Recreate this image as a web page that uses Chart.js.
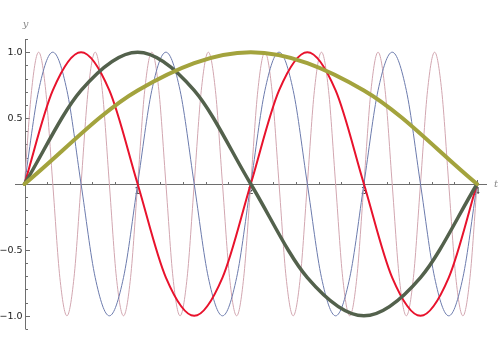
<!DOCTYPE html>
<html>
<head>
<meta charset="utf-8">
<script src="https://cdn.jsdelivr.net/npm/chart.js@4"></script>
<style>
html,body{margin:0;padding:0;background:#fff;}
#wrap{width:500px;height:350px;position:relative;}
</style>
</head>
<body>
<div id="wrap"><canvas id="c" width="500" height="350"></canvas></div>
<script>
// sin(4πt)
const pinkT = [0,0.0625,0.125,0.1875,0.25,0.3125,0.375,0.4375,0.5,0.5625,0.625,0.6875,0.75,0.8125,0.875,0.9375,1,1.0625,1.125,1.1875,1.25,1.3125,1.375,1.4375,1.5,1.5625,1.625,1.6875,1.75,1.8125,1.875,1.9375,2,2.0625,2.125,2.1875,2.25,2.3125,2.375,2.4375,2.5,2.5625,2.625,2.6875,2.75,2.8125,2.875,2.9375,3,3.0625,3.125,3.1875,3.25,3.3125,3.375,3.4375,3.5,3.5625,3.625,3.6875,3.75,3.8125,3.875,3.9375,4];
const pinkY = [0,0.71,1,0.71,0,-0.71,-1,-0.71,0,0.71,1,0.71,0,-0.71,-1,-0.71,0,0.71,1,0.71,0,-0.71,-1,-0.71,0,0.71,1,0.71,0,-0.71,-1,-0.71,0,0.71,1,0.71,0,-0.71,-1,-0.71,0,0.71,1,0.71,0,-0.71,-1,-0.71,0,0.71,1,0.71,0,-0.71,-1,-0.71,0,0.71,1,0.71,0,-0.71,-1,-0.71,0];
// sin(2πt)
const blueT = [0,0.125,0.25,0.375,0.5,0.625,0.75,0.875,1,1.125,1.25,1.375,1.5,1.625,1.75,1.875,2,2.125,2.25,2.375,2.5,2.625,2.75,2.875,3,3.125,3.25,3.375,3.5,3.625,3.75,3.875,4];
const blueY = [0,0.71,1,0.71,0,-0.71,-1,-0.71,0,0.71,1,0.71,0,-0.71,-1,-0.71,0,0.71,1,0.71,0,-0.71,-1,-0.71,0,0.71,1,0.71,0,-0.71,-1,-0.71,0];
// sin(πt)
const redT = [0,0.25,0.5,0.75,1,1.25,1.5,1.75,2,2.25,2.5,2.75,3,3.25,3.5,3.75,4];
const redY = [0,0.71,1,0.71,0,-0.71,-1,-0.71,0,0.71,1,0.71,0,-0.71,-1,-0.71,0];
// sin(πt/2)
const darkT = [0,0.5,1,1.5,2,2.5,3,3.5,4];
const darkY = [0,0.71,1,0.71,0,-0.71,-1,-0.71,0];
// sin(πt/4)
const oliveT = [0,1,2,3,4];
const oliveY = [0,0.71,1,0.71,0];

const xTicks = [1,2,3,4];
const xTickLabels = ["1","2","3","4"];
const xMinor = [0.2,0.4,0.6,0.8,1.2,1.4,1.6,1.8,2.2,2.4,2.6,2.8,3.2,3.4,3.6,3.8];
const yTicks = [1,0.5,-0.5,-1];
const yTickLabels = ["1.0","0.5","\u22120.5","\u22121.0"];
const yMinor = [1.1,0.9,0.8,0.7,0.6,0.4,0.3,0.2,0.1,-0.1,-0.2,-0.3,-0.4,-0.6,-0.7,-0.8,-0.9,-1.1];

function pts(ts, ys){ return ts.map((t,i)=>({x:t,y:ys[i]})); }

const axesPlugin = {
  id:'mmaAxes',
  beforeDatasetsDraw(chart){
    const ctx = chart.ctx, xs = chart.scales.x, ys = chart.scales.y, a = chart.chartArea;
    const y0 = Math.round(ys.getPixelForValue(0)) + 0.5;
    const x0 = Math.round(xs.getPixelForValue(0)) + 0.5;
    ctx.save();
    ctx.strokeStyle = '#6e6e6e';
    ctx.lineWidth = 1;
    ctx.beginPath();
    ctx.moveTo(a.left, y0); ctx.lineTo(a.right, y0);
    ctx.moveTo(x0, a.top); ctx.lineTo(x0, a.bottom);
    xTicks.forEach(v=>{ const p=Math.round(xs.getPixelForValue(v))+0.5; ctx.moveTo(p,y0); ctx.lineTo(p,y0-4.5); });
    xMinor.forEach(v=>{ const p=Math.round(xs.getPixelForValue(v))+0.5; ctx.moveTo(p,y0); ctx.lineTo(p,y0-2.5); });
    yTicks.forEach(v=>{ const p=Math.round(ys.getPixelForValue(v))+0.5; ctx.moveTo(x0,p); ctx.lineTo(x0+4.5,p); });
    yMinor.forEach(v=>{ const p=Math.round(ys.getPixelForValue(v))+0.5; ctx.moveTo(x0,p); ctx.lineTo(x0+2.5,p); });
    ctx.stroke();
    ctx.fillStyle = '#222';
    ctx.font = '9.5px "DejaVu Sans", sans-serif';
    ctx.textAlign = 'center'; ctx.textBaseline = 'top';
    xTicks.forEach((v,i)=>{ ctx.fillText(xTickLabels[i], xs.getPixelForValue(v), y0+2.5); });
    ctx.textAlign = 'right'; ctx.textBaseline = 'middle';
    yTicks.forEach((v,i)=>{ ctx.fillText(yTickLabels[i], x0-3, ys.getPixelForValue(v)+0.5); });
    ctx.fillStyle = '#8a8a8a';
    ctx.font = 'italic 10px "DejaVu Serif", serif';
    ctx.textAlign = 'center';
    ctx.fillText('y', x0, 24);
    ctx.textAlign = 'left';
    ctx.fillText('t', a.right + 7, y0);
    ctx.restore();
  }
};

new Chart(document.getElementById('c'), {
  type:'line',
  data:{
    datasets:[
      {data:pts(oliveT,oliveY), borderColor:'#a3a33d', borderWidth:4},
      {data:pts(darkT,darkY), borderColor:'#53614c', borderWidth:3.5},
      {data:pts(redT,redY), borderColor:'#e8122c', borderWidth:2},
      {data:pts(blueT,blueY), borderColor:'#6c7bad', borderWidth:1},
      {data:pts(pinkT,pinkY), borderColor:'#d2a6b0', borderWidth:1}
    ].map(d=>Object.assign(d,{pointRadius:0, fill:false, cubicInterpolationMode:'monotone', borderCapStyle:'round', borderJoinStyle:'round'}))
  },
  options:{
    responsive:false,
    animation:false,
    devicePixelRatio:1,
    layout:{padding:{left:15,right:13,top:39,bottom:21}},
    plugins:{legend:{display:false}, tooltip:{enabled:false}},
    scales:{
      x:{type:'linear', min:-0.084, max:4.088, display:false},
      y:{type:'linear', min:-1.1, max:1.1, display:false}
    }
  },
  plugins:[axesPlugin]
});
</script>
</body>
</html>
